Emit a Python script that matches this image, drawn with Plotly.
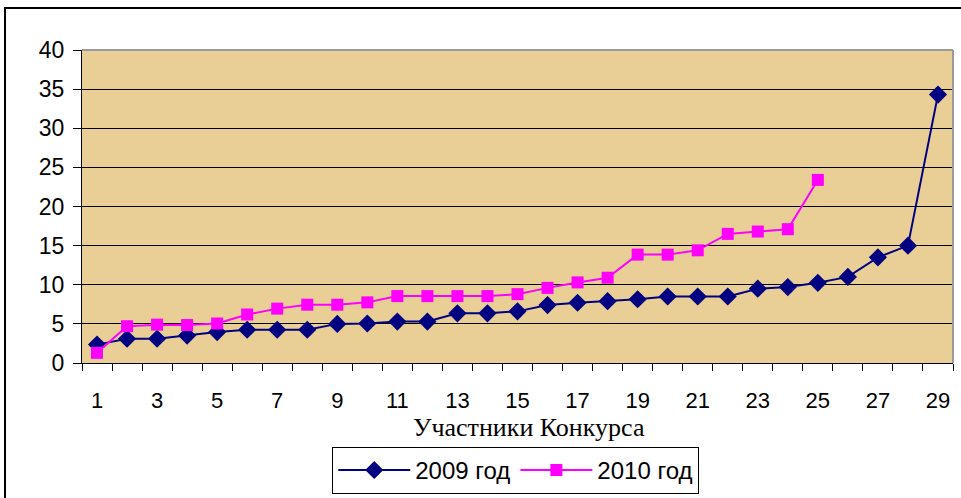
import plotly.graph_objects as go

participants = list(range(1, 30))
values_2009 = [2.35, 3.1, 3.1, 3.5, 3.95, 4.25, 4.25, 4.25, 5.0, 5.05,
               5.3, 5.3, 6.35, 6.35, 6.6, 7.4, 7.7, 7.9, 8.15, 8.5,
               8.5, 8.5, 9.5, 9.7, 10.25, 11.0, 13.5, 15.0, 34.3]
values_2010 = [1.3, 4.7, 4.9, 4.85, 5.05, 6.2, 6.95, 7.45, 7.45, 7.75,
               8.55, 8.55, 8.55, 8.55, 8.8, 9.6, 10.3, 10.9, 13.85, 13.85,
               14.4, 16.5, 16.8, 17.1, 23.4]
x_tick_labels = [str(i) for i in range(1, 30, 2)]
y_ticks = list(range(0, 45, 5))
x_title = "Участники Конкурса"

fig = go.Figure()
fig.add_trace(go.Scatter(
    x=participants[:len(values_2009)], y=values_2009, name="2009 год",
    mode="lines+markers",
    line=dict(color="#000080", width=2),
    marker=dict(symbol="diamond", size=14, color="#000080"),
))
fig.add_trace(go.Scatter(
    x=participants[:len(values_2010)], y=values_2010, name="2010 год",
    mode="lines+markers",
    line=dict(color="#FF00FF", width=2),
    marker=dict(symbol="square", size=12, color="#FF00FF"),
))

font_sans = "Liberation Sans, Arial, sans-serif"

fig.update_layout(
    width=961, height=498,
    margin=dict(l=82, r=8, t=50, b=135, autoexpand=False),
    paper_bgcolor="white",
    plot_bgcolor="#E9CF95",
    font=dict(family=font_sans, size=22, color="black"),
    showlegend=True,
    legend=dict(
        orientation="h", x=0.498, xanchor="center", y=-0.268, yanchor="top",
        bgcolor="white", bordercolor="black", borderwidth=1,
        font=dict(family=font_sans, size=24, color="black"),
        itemwidth=72,
    ),
    xaxis=dict(
        range=[0.5, 29.5],
        tickmode="array",
        tickvals=[int(t) for t in x_tick_labels],
        ticktext=x_tick_labels,
        ticks="",
        showgrid=False, zeroline=False,
        showline=True, linecolor="black", linewidth=1,
        ticklabelstandoff=18,
        automargin=False,
        minor=dict(tickmode="array", tickvals=[i + 0.5 for i in range(0, 30)],
                   ticks="outside", ticklen=7, tickcolor="black", showgrid=False),
        fixedrange=True,
    ),
    yaxis=dict(
        range=[0, 40],
        tickmode="array", tickvals=y_ticks,
        ticks="outside", ticklen=8, tickcolor="black",
        showgrid=True, gridcolor="black", gridwidth=1,
        zeroline=False,
        showline=True, linecolor="black", linewidth=1,
        ticklabelstandoff=4,
        tickfont=dict(size=23),
        automargin=False,
        fixedrange=True,
    ),
    annotations=[
        dict(text=x_title, xref="paper", yref="paper", x=0.513, y=-0.206,
             xanchor="center", yanchor="middle", showarrow=False,
             font=dict(family="Liberation Serif, Times New Roman, serif", size=26, color="black")),
    ],
    shapes=[
        dict(type="line", xref="paper", yref="paper", x0=0, x1=1, y0=1, y1=1,
             line=dict(color="#9a9a9a", width=2), layer="above"),
        dict(type="line", xref="paper", yref="paper", x0=1, x1=1, y0=0, y1=1,
             line=dict(color="#9a9a9a", width=2), layer="above"),
        dict(type="rect", xref="paper", yref="paper",
             x0=-0.0884, x1=1.2, y0=-0.7, y1=1.134,
             line=dict(color="black", width=2), layer="above"),
    ],
)

fig.write_html("out.html", config={"displayModeBar": False},
               post_script="document.body.style.margin='0';")
